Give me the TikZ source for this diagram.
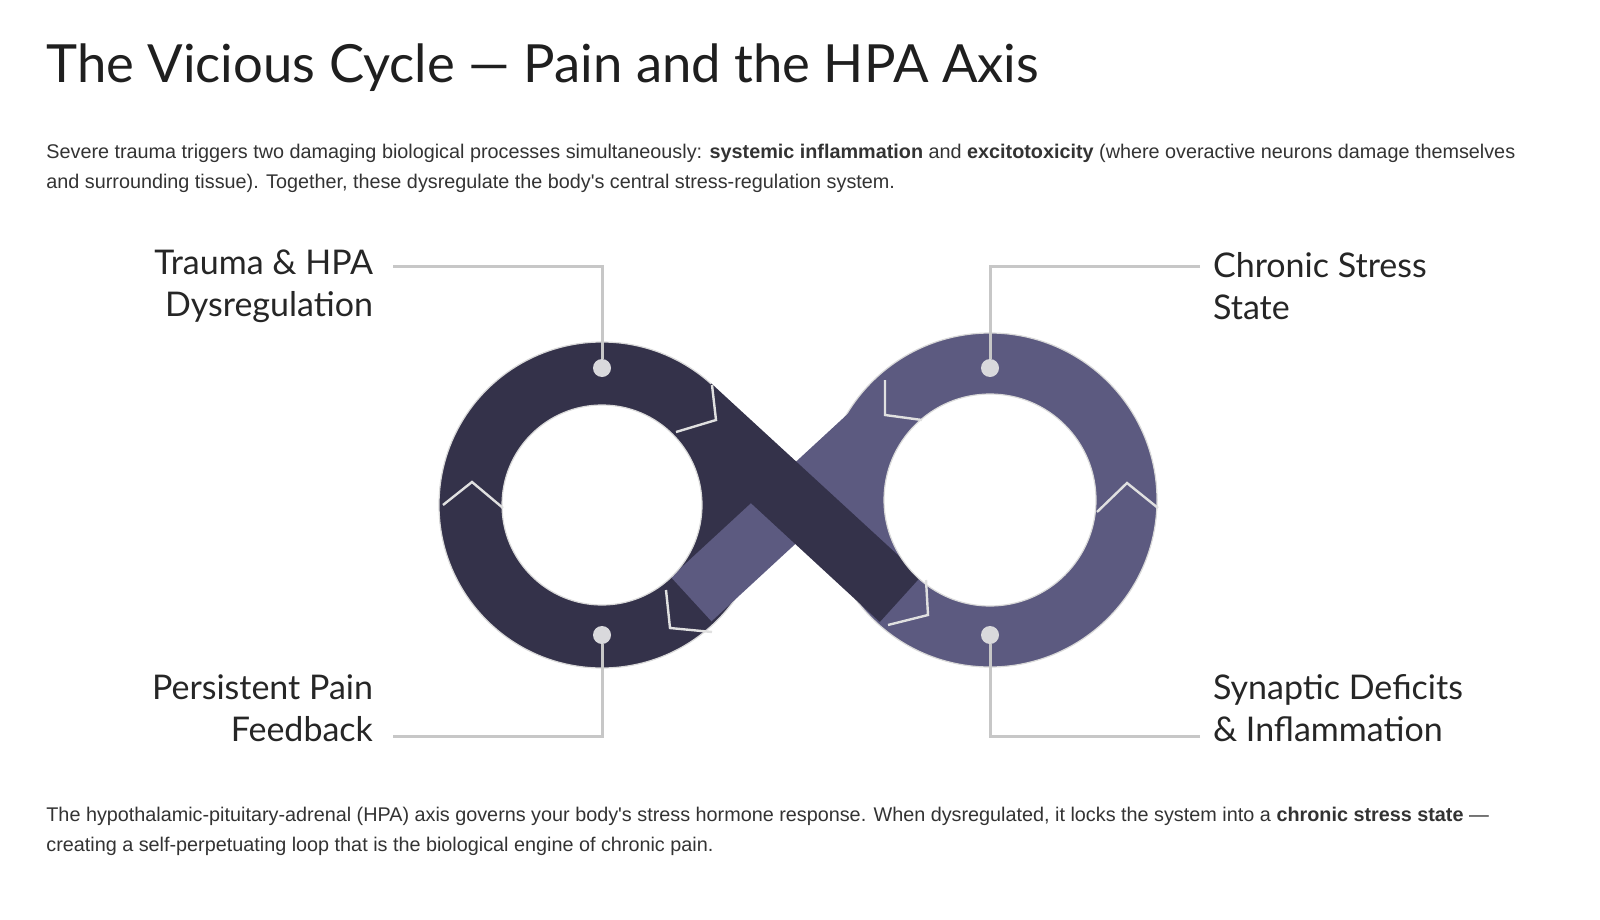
\documentclass[tikz,border=0pt]{standalone}
\usepackage{fontspec}
\setmainfont{Lato}
\newfontfamily\bodyfont{Liberation Sans}
\begin{document}
\begin{tikzpicture}[x=0.5pt,y=-0.5pt,
  lead/.style={draw=black!22,line width=1.5pt},
  dot/.style={circle,fill=blue!8!black!15,minimum size=9pt,inner sep=0pt},
  notch/.style={draw=black!12,line width=1.2pt,line join=miter},
  lblL/.style={anchor=east,align=right,font=\fontsize{17}{21}\selectfont,text=black!85},
  lblR/.style={anchor=west,align=left,font=\fontsize{17}{21}\selectfont,text=black!85},
  body/.style={anchor=base west,inner sep=0pt,font=\bodyfont\fontsize{9.9}{12}\selectfont,text=black!80}]
\definecolor{dk}{HTML}{34324A}
\definecolor{pu}{HTML}{5C5A80}
\useasboundingbox[fill=white] (0,0) rectangle (1600,920);
\node[anchor=base west,inner sep=0pt,font=\fontsize{26.3}{30}\selectfont,text=black!88] (title) at (46,83) {The Vicious Cycle — Pain and the HPA Axis};
\node[body] (p1) at (46,158) {Severe trauma triggers two damaging biological processes simultaneously: \textbf{systemic inflammation} and \textbf{excitotoxicity} (where overactive neurons damage themselves};
\node[body] (p2) at (46,188) {and surrounding tissue). Together, these dysregulate the body's central stress-regulation system.};
\node[body] (p3) at (46,821) {The hypothalamic-pituitary-adrenal (HPA) axis governs your body's stress hormone response. When dysregulated, it locks the system into a \textbf{chronic stress state} —};
\node[body] (p4) at (46,851) {creating a self-perpetuating loop that is the biological engine of chronic pain.};
% rings
\fill[dk,draw=black!15,line width=0.6pt] (602,505) circle (163);
\fill[pu,draw=black!15,line width=0.6pt] (990,500) circle (167);
% purple band (under)
\fill[pu] (711.5,621.3) -- (670.9,577.1) -- (880.5,383.7) -- (921.1,427.9) -- cycle;
% dark band (over)
\fill[dk] (711.5,383.7) -- (670.2,428.6) -- (879.8,622.0) -- (921.1,576.4) -- cycle;
\fill[white,draw=black!15,line width=0.6pt] (602,505) circle (100);
\fill[white,draw=black!15,line width=0.6pt] (990,500) circle (106);
% notches
\draw[notch] (443,505) -- (472,482) -- (503,508);
\draw[notch] (712,385) -- (716,420) -- (676,432);
\draw[notch] (666,590) -- (670,628) -- (712,632);
\draw[notch] (885,380) -- (885,415) -- (922,420);
\draw[notch] (1097,512) -- (1127,483) -- (1158,508);
\draw[notch] (926,580) -- (928,615) -- (888,625);
% dots and leaders
\node[dot] (d1) at (602,368) {};
\node[dot] (d2) at (990,368) {};
\node[dot] (d3) at (602,635) {};
\node[dot] (d4) at (990,635) {};
\node[lblL] (l1) at (380,286) {Trauma \& HPA\\Dysregulation};
\node[lblR] (l2) at (1206,286) {Chronic Stress\\State};
\node[lblL] (l3) at (380,708) {Persistent Pain\\Feedback};
\node[lblR] (l4) at (1206,708) {Synaptic Deficits\\\& Inflammation};
\coordinate (c1) at (602,266); \coordinate (c2) at (990,266);
\coordinate (c3) at (602,736); \coordinate (c4) at (990,736);
\coordinate (e1) at (393,266); \coordinate (e2) at (1200,266);
\coordinate (e3) at (393,736); \coordinate (e4) at (1200,736);
\draw[lead] (e1) -- (c1) -- (d1);
\draw[lead] (e2) -- (c2) -- (d2);
\draw[lead] (e3) -- (c3) -- (d3);
\draw[lead] (e4) -- (c4) -- (d4);
\end{tikzpicture}
\end{document}
